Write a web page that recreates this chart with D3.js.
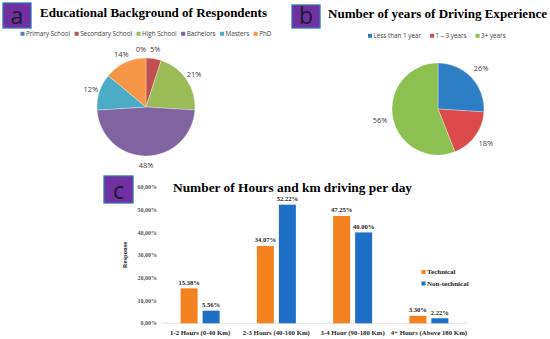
<!DOCTYPE html>
<html>
<head>
<meta charset="utf-8">
<script src="https://cdnjs.cloudflare.com/ajax/libs/d3/7.8.5/d3.min.js"></script>
<style>
  body { margin: 0; background: #fff; }
  svg { display: block; }
  .title { font-family: 'Liberation Serif', 'Times New Roman', serif; font-weight: bold; fill: #000; }
  .badge-letter { font-family: 'Open Sans', 'Noto Sans', sans-serif; fill: #1b1b2a; }
  .legend-sans { font-family: 'Open Sans', 'Noto Sans', sans-serif; font-size: 6.3px; fill: #404040; }
  .pie-label { font-family: 'Open Sans', 'Noto Sans', sans-serif; font-size: 7.4px; fill: #404040; }
  .serif-small { font-family: 'Liberation Serif', 'Times New Roman', serif; font-weight: bold; fill: #262626; }
</style>
</head>
<body>
<svg id="chart" width="550" height="339"></svg>
<script>
// panel a: education
var eduLevels = ['Primary School', 'Secondary School', 'High School', 'Bachelors', 'Masters', 'PhD'];
var eduValues = [0, 5, 21, 48, 12, 14];
var eduColors = ['#4f81bd', '#c0504d', '#9bbb59', '#8064a2', '#4bacc6', '#f79646'];

// panel b: driving experience
var expLevels = ['Less than 1 year', '1 \u2013 3 years', '3+ years'];
var expValues = [26, 18, 56];
var expColors = ['#2e7ec6', '#dc4b4b', '#8cc152'];

// panel c: hours per day
var hourCategories = ['1-2 Hours (0-40 Km)', '2-3 Hours (40-100 Km)', '3-4 Hour (90-180 Km)', '4+ Hours (Above 180 Km)'];
var groups = ['Technical', 'Non-technical'];
var technical = [15.38, 34.07, 47.25, 3.30];
var nonTechnical = [5.56, 52.22, 40.00, 2.22];
var groupColors = ['#f58220', '#1f6fc6'];
var yTicks = [0, 10, 20, 30, 40, 50, 60];

var svg = d3.select('#chart');

function badge(x, y, w, h, letter) {
  var g = svg.append('g').attr('transform', 'translate(' + x + ',' + y + ')');
  g.append('rect')
    .attr('width', w)
    .attr('height', h)
    .attr('fill', '#7030a0')
    .attr('stroke', '#2e75b6')
    .attr('stroke-width', 1.3);
  g.append('text')
    .attr('class', 'badge-letter')
    .attr('x', w / 2)
    .attr('y', h - 4)
    .attr('text-anchor', 'middle')
    .style('font-size', '23px')
    .text(letter);
}

function title(x, y, len, size, txt) {
  svg.append('text')
    .attr('class', 'title')
    .attr('x', x)
    .attr('y', y)
    .attr('textLength', len)
    .attr('lengthAdjust', 'spacingAndGlyphs')
    .style('font-size', size + 'px')
    .text(txt);
}

function legend(x, y, names, colors, gap) {
  var cx = x;
  names.forEach(function(name, i) {
    svg.append('rect')
      .attr('x', cx)
      .attr('y', y - 2.2)
      .attr('width', 4)
      .attr('height', 4)
      .attr('fill', colors[i]);
    var t = svg.append('text')
      .attr('class', 'legend-sans')
      .attr('x', cx + 5.5)
      .attr('y', y + 2.2)
      .text(name);
    cx += 5.5 + t.node().getComputedTextLength() + gap;
  });
}

function pie(cx, cy, r, labelR, values, colors) {
  var arcs = d3.pie().sort(null)(values);
  var arc = d3.arc().innerRadius(0).outerRadius(r);
  var labelArc = d3.arc().innerRadius(labelR).outerRadius(labelR);
  var g = svg.append('g').attr('transform', 'translate(' + cx + ',' + cy + ')');
  g.selectAll('path')
    .data(arcs)
    .enter().append('path')
    .attr('d', arc)
    .attr('fill', function(d, i) { return colors[i]; })
    .attr('stroke', '#fff')
    .attr('stroke-width', 0.3);
  g.selectAll('text')
    .data(arcs)
    .enter().append('text')
    .attr('class', 'pie-label')
    .attr('transform', function(d) {
      var c = labelArc.centroid(d);
      // keep the 0% and 5% labels from overlapping
      if (d.value === 0) c[0] -= 5;
      return 'translate(' + c[0] + ',' + c[1] + ')';
    })
    .attr('text-anchor', 'middle')
    .attr('dy', '0.35em')
    .text(function(d) { return d.value + '%'; });
}

// ---- panel a
badge(3, 3, 28, 25, 'a');
title(40, 17.4, 227, 13, 'Educational Background of Respondents');
legend(20.5, 34, eduLevels, eduColors, 4.5);
pie(146, 107, 49, 58, eduValues, eduColors);

// ---- panel b
badge(292, 5, 28, 23, 'b');
title(328, 17.5, 219, 13, 'Number of years of Driving Experience');
legend(368, 36, expLevels, expColors, 9);
pie(438, 109, 46, 59, expValues, expColors);

// ---- panel c
badge(104, 176, 29, 27, 'c');
title(173, 192, 239, 13.3, 'Number of Hours and km driving per day');

var x0 = d3.scaleBand()
  .domain(hourCategories)
  .range([162, 467]);

var x1 = d3.scaleBand()
  .domain(groups)
  .range([x0.bandwidth() / 2 - 19.5, x0.bandwidth() / 2 + 19.5])
  .paddingInner(5 / 22);

var y = d3.scaleLinear()
  .domain([0, 60])
  .range([323.3, 187]);

var commaPct = function(v) { return d3.format('.2f')(v).replace('.', ',') + '%'; };

svg.append('g')
  .selectAll('text')
  .data(yTicks)
  .enter().append('text')
  .attr('class', 'serif-small')
  .attr('x', 157)
  .attr('y', function(d) { return y(d); })
  .attr('dy', '0.35em')
  .attr('text-anchor', 'end')
  .style('font-size', '6px')
  .style('fill', '#595959')
  .text(commaPct);

svg.append('text')
  .attr('class', 'serif-small')
  .attr('transform', 'translate(127,255) rotate(-90)')
  .attr('text-anchor', 'middle')
  .style('font-size', '6.6px')
  .text('Response');

svg.append('line')
  .attr('x1', x0.range()[0])
  .attr('x2', x0.range()[1])
  .attr('y1', y(0))
  .attr('y2', y(0))
  .attr('stroke', '#d9d9d9')
  .attr('stroke-width', 0.8);

var rows = hourCategories.map(function(c, i) {
  return { cat: c, vals: [technical[i], nonTechnical[i]] };
});

var cat = svg.append('g')
  .selectAll('g')
  .data(rows)
  .enter().append('g')
  .attr('transform', function(d) { return 'translate(' + x0(d.cat) + ',0)'; });

cat.selectAll('rect')
  .data(function(d) { return d.vals.map(function(v, j) { return { g: groups[j], v: v, j: j }; }); })
  .enter().append('rect')
  .attr('x', function(d) { return x1(d.g); })
  .attr('y', function(d) { return y(d.v); })
  .attr('width', x1.bandwidth())
  .attr('height', function(d) { return y(0) - y(d.v); })
  .attr('fill', function(d) { return groupColors[d.j]; });

cat.selectAll('text.val')
  .data(function(d) { return d.vals.map(function(v, j) { return { g: groups[j], v: v }; }); })
  .enter().append('text')
  .attr('class', 'serif-small val')
  .attr('x', function(d) { return x1(d.g) + x1.bandwidth() / 2; })
  .attr('y', function(d) { return y(d.v) - 3.5; })
  .attr('text-anchor', 'middle')
  .style('font-size', '6.6px')
  .text(function(d) { return d3.format('.2f')(d.v) + '%'; });

svg.append('g')
  .selectAll('text')
  .data(hourCategories)
  .enter().append('text')
  .attr('class', 'serif-small')
  .attr('x', function(d) { return x0(d) + x0.bandwidth() / 2; })
  .attr('y', 334.5)
  .attr('text-anchor', 'middle')
  .style('font-size', '6.8px')
  .text(function(d) { return d; });

var leg = svg.append('g')
  .selectAll('g')
  .data(groups)
  .enter().append('g')
  .attr('transform', function(d, i) { return 'translate(421.5,' + (272 + i * 11.5) + ')'; });
leg.append('rect')
  .attr('x', 0)
  .attr('y', -2)
  .attr('width', 4)
  .attr('height', 4)
  .attr('fill', function(d, i) { return groupColors[i]; });
leg.append('text')
  .attr('class', 'serif-small')
  .attr('x', 5.5)
  .attr('y', 2.4)
  .style('font-size', '7px')
  .text(function(d) { return d; });
</script>
</body>
</html>
